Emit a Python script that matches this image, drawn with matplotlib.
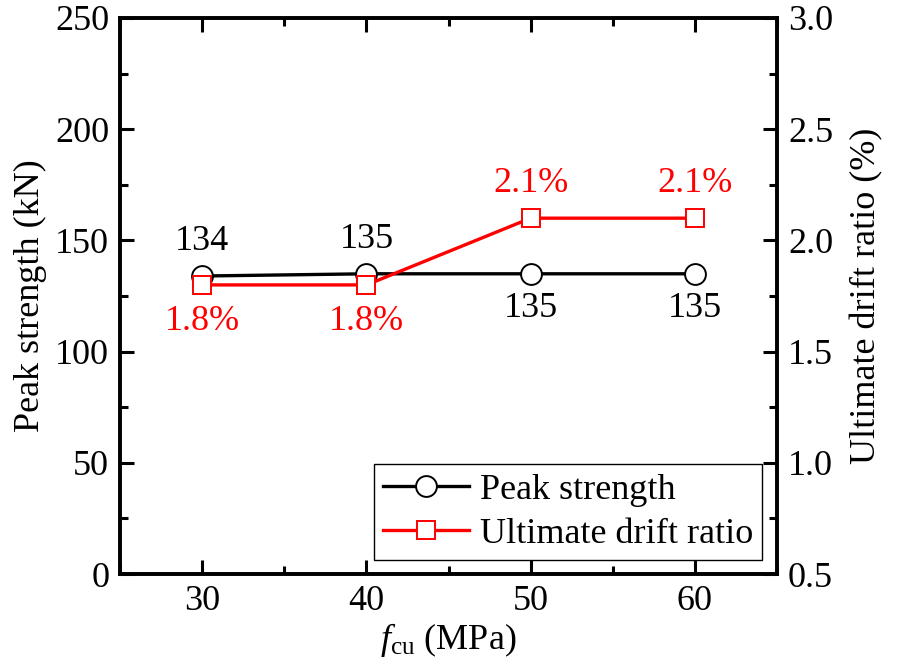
import numpy as np
import matplotlib.pyplot as plt
from matplotlib.ticker import MultipleLocator

plt.rcParams['font.family'] = ['Liberation Serif', 'DejaVu Serif']
plt.rcParams['mathtext.fontset'] = 'custom'
plt.rcParams['mathtext.it'] = 'Liberation Serif:italic'
plt.rcParams['mathtext.rm'] = 'Liberation Serif'

# data
fcu = [30, 40, 50, 60]
peak = [134, 135, 135, 135]
drift = [1.8, 1.8, 2.1, 2.1]
peak_labels = ['134', '135', '135', '135']
drift_labels = ['1.8%', '1.8%', '2.1%', '2.1%']

fs = 26
fig = plt.figure(figsize=(8.98, 6.66), dpi=100)
ax = fig.add_axes([0.134, 0.138, 0.731, 0.835])
ax2 = ax.twinx()

l1, = ax.plot(fcu, peak, '-o', color='black', lw=2.4, ms=15,
              mfc='white', mec='black', mew=1.4, label='Peak strength')
l2, = ax2.plot(fcu, drift, '-s', color='red', lw=2.4, ms=13,
               mfc='white', mec='red', mew=1.4, label='Ultimate drift ratio')

ax.set_xlim(25, 65)
ax.set_ylim(0, 250)
ax2.set_ylim(0.5, 3.0)
ax.xaxis.set_major_locator(MultipleLocator(10))
ax.xaxis.set_minor_locator(MultipleLocator(5))
ax.yaxis.set_major_locator(MultipleLocator(50))
ax.yaxis.set_minor_locator(MultipleLocator(25))
ax2.yaxis.set_major_locator(MultipleLocator(0.5))
ax2.yaxis.set_minor_locator(MultipleLocator(0.25))
ax2.yaxis.set_major_formatter(plt.FormatStrFormatter('%.1f'))

for a in (ax, ax2):
    for s in a.spines.values():
        s.set_linewidth(2.6)
ax.tick_params(which='both', direction='in', top=True, labelsize=fs, width=2.2, pad=8)
ax.tick_params(which='major', length=10)
ax.tick_params(which='minor', length=6)
ax2.tick_params(which='both', direction='in', labelsize=fs, width=2.2, pad=8)
ax2.tick_params(which='major', length=10)
ax2.tick_params(which='minor', length=6)

ax.set_xlabel(r'$f_{\rm cu}$ (MPa)', fontsize=fs, labelpad=2)
ax.set_ylabel('Peak strength (kN)', fontsize=fs, labelpad=6)
ax2.set_ylabel('Ultimate drift ratio (%)', fontsize=fs, labelpad=12)

for i, (x, y) in enumerate(zip(fcu, peak)):
    dy = 8 if i < 2 else -8
    ax.text(x, y + dy, peak_labels[i], ha='center',
            va='bottom' if i < 2 else 'top', fontsize=fs, color='black')
for i, (x, y) in enumerate(zip(fcu, drift)):
    dy = -0.09 if i < 2 else 0.08
    ax2.text(x, y + dy, drift_labels[i], ha='center',
             va='top' if i < 2 else 'bottom', fontsize=fs, color='red')

leg = ax.legend(handles=[l1, l2], loc='lower right', fontsize=fs,
                fancybox=False, edgecolor='black', framealpha=1,
                borderaxespad=0.4, handlelength=2.4, borderpad=0.25,
                labelspacing=0.3, handletextpad=0.3)
leg.get_frame().set_linewidth(1.0)

fig.savefig('out.png', dpi=100)
